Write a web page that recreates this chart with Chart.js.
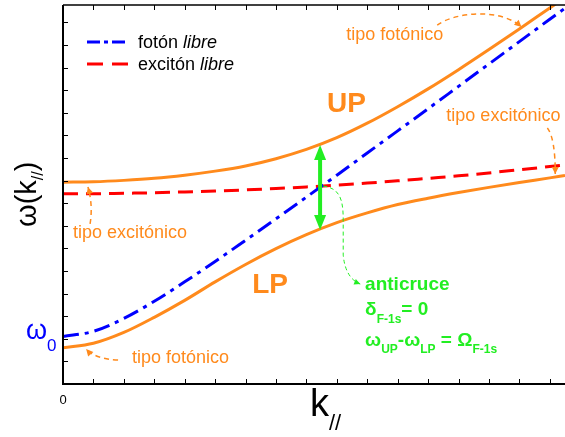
<!DOCTYPE html>
<html>
<head>
<meta charset="utf-8">
<script src="https://cdn.jsdelivr.net/npm/chart.js@4/dist/chart.umd.min.js"></script>
<style>
  body { margin: 0; background: #fff; }
  canvas { display: block; }
</style>
</head>
<body>
<canvas id="dispersion" width="565" height="437"></canvas>
<script>
// values (1 unit = 1 tick step on each axis)
const kValues = [0, 1, 2, 3, 4, 5, 6, 7, 8, 9, 10, 11, 12, 13, 14, 15, 16, 16.5];
const photonFree = [2.10, 2.33, 2.90, 3.66, 4.52, 5.42, 6.36, 7.31, 8.27, 9.24, 10.22, 11.20, 12.18, 13.17, 14.16, 15.15, 16.14, 16.63];
const excitonFree = [8.42, 8.42, 8.44, 8.46, 8.50, 8.54, 8.59, 8.65, 8.72, 8.80, 8.89, 8.99, 9.10, 9.21, 9.34, 9.48, 9.62, 9.70];
const upperPolariton = [8.93, 8.95, 9.01, 9.10, 9.24, 9.42, 9.65, 9.97, 10.38, 10.90, 11.54, 12.27, 13.06, 13.91, 14.80, 15.71, 16.64, 17.10];
const lowerPolariton = [1.60, 1.80, 2.28, 2.95, 3.70, 4.52, 5.29, 5.99, 6.61, 7.14, 7.57, 7.94, 8.22, 8.47, 8.70, 8.92, 9.12, 9.23];

// anticrossing: UP - LP gap at the crossing point
const anticrossK = 8.45;
const anticrossUP = 10.58;
const anticrossLP = 6.81;

const xTickValues = [0];
const xTickLabels = ["0"];
const tickStep = 1;

const ORANGE = "#ff8a1c";
const BLUE = "#0000ff";
const RED = "#ff0000";
const GREEN = "#22ee22";
const FONT = "'Liberation Sans', Arial, sans-serif";

const toPoints = ys => kValues.map((k, i) => ({ x: k, y: ys[i] }));

// write a row of text pieces (for subscripts)
function runs(ctx, x, y, parts, color) {
    ctx.fillStyle = color;
    ctx.textAlign = "left";
    ctx.textBaseline = "alphabetic";
    for (const p of parts) {
        ctx.font = p.font;
        ctx.fillText(p.text, x, y + (p.dy || 0));
        x += ctx.measureText(p.text).width;
    }
}

function arrowHead(ctx, tip, from, len, half, color) {
    const ang = Math.atan2(tip[1] - from[1], tip[0] - from[0]);
    ctx.save();
    ctx.fillStyle = color;
    ctx.translate(tip[0], tip[1]);
    ctx.rotate(ang);
    ctx.beginPath();
    ctx.moveTo(0, 0);
    ctx.lineTo(-len, -half);
    ctx.lineTo(-len, half);
    ctx.closePath();
    ctx.fill();
    ctx.restore();
}

const frame = {
    id: "frame",
    afterDatasetsDraw(chart) {
        const { ctx, chartArea: a, scales: { x, y } } = chart;
        ctx.save();
        ctx.strokeStyle = "#000";
        ctx.lineWidth = 1;
        ctx.beginPath();
        for (let v = tickStep; v <= x.max; v += tickStep) {
            const px = Math.round(x.getPixelForValue(v)) + 0.5;
            ctx.moveTo(px, a.bottom); ctx.lineTo(px, a.bottom - 5);
            ctx.moveTo(px, a.top); ctx.lineTo(px, a.top + 5);
        }
        for (let v = tickStep; v <= y.max; v += tickStep) {
            const py = Math.round(y.getPixelForValue(v)) + 0.5;
            ctx.moveTo(a.left, py); ctx.lineTo(a.left + 5, py);
        }
        ctx.stroke();

        ctx.lineWidth = 2;
        ctx.beginPath();
        ctx.moveTo(a.left, a.top);
        ctx.lineTo(a.left, a.bottom);
        ctx.lineTo(a.right, a.bottom);
        ctx.stroke();
        ctx.lineWidth = 1.5;
        ctx.beginPath();
        ctx.moveTo(a.left, a.top);
        ctx.lineTo(a.right, a.top);
        ctx.stroke();

        // tick labels
        ctx.fillStyle = "#000";
        ctx.font = "13px " + FONT;
        ctx.textAlign = "center";
        ctx.textBaseline = "alphabetic";
        xTickValues.forEach((v, i) => ctx.fillText(xTickLabels[i], x.getPixelForValue(v), a.bottom + 20));

        // axis titles
        runs(ctx, 310, 416, [
            { text: "k", font: "38px " + FONT },
            { text: "//", font: "22px " + FONT, dy: 14 }
        ], "#000");

        ctx.save();
        ctx.translate(36, 227);
        ctx.rotate(-Math.PI / 2);
        runs(ctx, 0, 0, [
            { text: "ω(k", font: "29px " + FONT },
            { text: "//", font: "16px " + FONT, dy: 7 },
            { text: ")", font: "29px " + FONT }
        ], "#000");
        ctx.restore();

        // omega_0 next to the axis, at the photon energy for k = 0
        const w0 = y.getPixelForValue(photonFree[0]);
        runs(ctx, 26, w0 + 2, [
            { text: "ω", font: "27px " + FONT },
            { text: "0", font: "17px " + FONT, dy: 12 }
        ], BLUE);

        // legend
        ctx.lineWidth = 3;
        ctx.strokeStyle = BLUE;
        ctx.setLineDash([13, 4, 4, 4]);
        ctx.beginPath(); ctx.moveTo(87, 42); ctx.lineTo(128, 42); ctx.stroke();
        ctx.strokeStyle = RED;
        ctx.setLineDash([16, 9]);
        ctx.beginPath(); ctx.moveTo(87, 64); ctx.lineTo(128, 64); ctx.stroke();
        ctx.setLineDash([]);
        runs(ctx, 138, 48, [
            { text: "fotón ", font: "18px " + FONT },
            { text: "libre", font: "italic 18px " + FONT }
        ], "#000");
        runs(ctx, 138, 70, [
            { text: "excitón ", font: "18px " + FONT },
            { text: "libre", font: "italic 18px " + FONT }
        ], "#000");
        ctx.restore();
    }
};

const notes = {
    id: "notes",
    afterDatasetsDraw(chart) {
        const { ctx, scales: { x, y } } = chart;
        const P = (k, w) => [x.getPixelForValue(k), y.getPixelForValue(w)];
        ctx.save();

        // branch labels
        const up = P(8.68, 12.04);
        runs(ctx, up[0], up[1], [{ text: "UP", font: "bold 28px " + FONT }], ORANGE);
        const lp = P(6.22, 4.03);
        runs(ctx, lp[0], lp[1], [{ text: "LP", font: "bold 28px " + FONT }], ORANGE);

        const small = "18px " + FONT;
        let t = P(9.31, 15.22);
        runs(ctx, t[0], t[1], [{ text: "tipo fotónico", font: small }], ORANGE);
        t = P(12.60, 11.64);
        runs(ctx, t[0], t[1], [{ text: "tipo excitónico", font: small }], ORANGE);
        t = P(0.33, 6.46);
        runs(ctx, t[0], t[1], [{ text: "tipo excitónico", font: small }], ORANGE);
        t = P(2.27, 0.93);
        runs(ctx, t[0], t[1], [{ text: "tipo fotónico", font: small }], ORANGE);

        // dashed orange pointers
        ctx.strokeStyle = ORANGE;
        ctx.lineWidth = 1.5;
        ctx.setLineDash([5, 4]);
        let s = P(12.30, 15.88), c1 = P(12.89, 16.46), c2 = P(14.38, 16.64), e = P(15.07, 15.80);
        ctx.beginPath(); ctx.moveTo(...s); ctx.bezierCurveTo(...c1, ...c2, ...e); ctx.stroke();
        arrowHead(ctx, e, c2, 7, 3.5, ORANGE);

        s = P(15.92, 11.33); c1 = P(16.18, 10.88); e = P(16.18, 9.29);
        ctx.beginPath(); ctx.moveTo(...s); ctx.quadraticCurveTo(...c1, ...e); ctx.stroke();
        arrowHead(ctx, e, c1, 7, 3.5, ORANGE);

        s = P(0.89, 7.08); c1 = P(0.99, 7.92); e = P(0.82, 8.72);
        ctx.beginPath(); ctx.moveTo(...s); ctx.quadraticCurveTo(...c1, ...e); ctx.stroke();
        arrowHead(ctx, e, c1, 7, 3.5, ORANGE);

        s = P(1.81, 1.06); c1 = P(1.05, 1.11); e = P(0.76, 1.55);
        ctx.beginPath(); ctx.moveTo(...s); ctx.quadraticCurveTo(...c1, ...e); ctx.stroke();
        arrowHead(ctx, e, c1, 7, 3.5, ORANGE);

        // green dashed pointer from the crossing to the note
        ctx.strokeStyle = GREEN;
        ctx.lineWidth = 1;
        ctx.setLineDash([4, 3]);
        s = P(8.55, 8.76); c1 = P(9.11, 8.67); c2 = P(9.21, 8.14);
        const m1 = P(9.21, 7.26), m2 = P(9.21, 5.71), q = P(9.28, 4.69);
        e = P(9.77, 4.42);
        ctx.beginPath();
        ctx.moveTo(...s);
        ctx.bezierCurveTo(...c1, ...c2, ...m1);
        ctx.lineTo(...m2);
        ctx.quadraticCurveTo(...q, ...e);
        ctx.stroke();
        ctx.setLineDash([]);
        arrowHead(ctx, e, q, 6, 3, GREEN);

        // green double arrow: UP - LP gap
        const top = P(anticrossK, anticrossUP), bot = P(anticrossK, anticrossLP);
        ctx.strokeStyle = GREEN;
        ctx.lineWidth = 4;
        ctx.beginPath();
        ctx.moveTo(top[0], top[1] + 12);
        ctx.lineTo(bot[0], bot[1] - 12);
        ctx.stroke();
        arrowHead(ctx, top, bot, 15, 6, GREEN);
        arrowHead(ctx, bot, top, 15, 6, GREEN);

        // green note
        const bold = "bold 19px " + FONT, sub = "bold 12px " + FONT;
        t = P(9.93, 4.16);
        runs(ctx, t[0], t[1], [{ text: "anticruce", font: bold }], GREEN);
        t = P(9.93, 3.05);
        runs(ctx, t[0], t[1], [
            { text: "δ", font: bold },
            { text: "F-1s", font: sub, dy: 8 },
            { text: "= 0", font: bold }
        ], GREEN);
        t = P(9.93, 1.68);
        runs(ctx, t[0], t[1], [
            { text: "ω", font: bold },
            { text: "UP", font: sub, dy: 7 },
            { text: "-ω", font: bold },
            { text: "LP", font: sub, dy: 7 },
            { text: " = Ω", font: bold },
            { text: "F-1s", font: sub, dy: 7 }
        ], GREEN);

        ctx.restore();
    }
};

const ctx = document.getElementById("dispersion").getContext("2d");
new Chart(ctx, {
    type: "line",
    data: {
        datasets: [
            {
                label: "fotón libre",
                data: toPoints(photonFree),
                borderColor: BLUE,
                borderWidth: 3,
                borderDash: [16, 6, 4, 6],
                clip: 0,
            },
            {
                label: "excitón libre",
                data: toPoints(excitonFree),
                borderColor: RED,
                borderWidth: 3,
                borderDash: [15, 8],
                clip: 0,
            },
            {
                label: "UP",
                data: toPoints(upperPolariton),
                borderColor: ORANGE,
                borderWidth: 3,
                clip: 0,
            },
            {
                label: "LP",
                data: toPoints(lowerPolariton),
                borderColor: ORANGE,
                borderWidth: 3,
                clip: 0,
            },
        ],
    },
    options: {
        responsive: false,
        animation: false,
        devicePixelRatio: 1,
        layout: { padding: { left: 63, top: 5, right: 0, bottom: 53 } },
        elements: {
            point: { radius: 0 },
            line: { cubicInterpolationMode: "monotone", fill: false },
        },
        plugins: {
            legend: { display: false },
            tooltip: { enabled: false },
        },
        scales: {
            x: { type: "linear", min: 0, max: 16.5, display: false },
            y: { type: "linear", min: 0, max: 16.77, display: false },
        },
    },
    plugins: [frame, notes],
});
</script>
</body>
</html>
